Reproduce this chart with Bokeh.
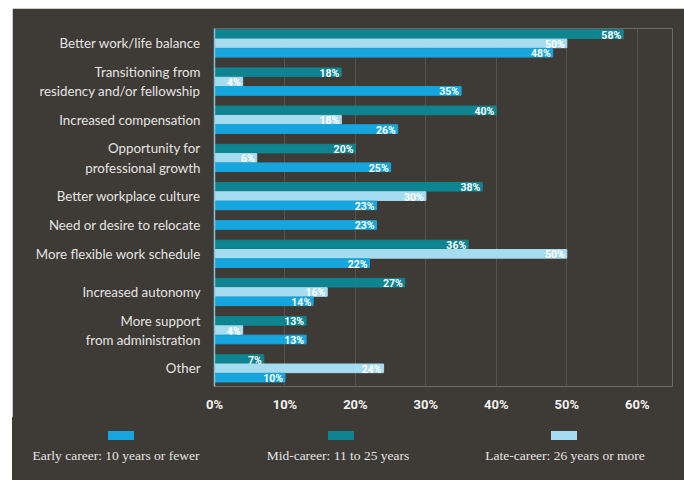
from bokeh.plotting import figure
from bokeh.models import Range1d, FixedTicker, ColumnDataSource, PrintfTickFormatter, Spacer, Div
from bokeh.layouts import row, column
from bokeh.core.properties import value
from bokeh.embed import file_html
from bokeh.resources import INLINE

# ---- data ----
categories = [
    "Better work/life balance",
    "Transitioning from\nresidency and/or fellowship",
    "Increased compensation",
    "Opportunity for\nprofessional growth",
    "Better workplace culture",
    "Need or desire to relocate",
    "More flexible work schedule",
    "Increased autonomy",
    "More support\nfrom administration",
    "Other",
]
early = [48, 35, 26, 25, 23, 23, 22, 14, 13, 10]
mid = [58, 18, 40, 20, 38, None, 36, 27, 13, 7]
late = [50, 4, 18, 6, 30, None, 50, 16, 4, 24]
series_names = ["Early career: 10 years or fewer", "Mid-career: 11 to 25 years",
                "Late-career: 26 years or more"]
x_ticks = [0, 10, 20, 30, 40, 50, 60]

# ---- style ----
BG = "#3e3a35"
C_EARLY = "#16a6dd"
C_MID = "#0e8491"
C_LATE = "#a6dcef"
GAP = 1.1

# build bar positions (stacked order within a group: mid, late, early)
ys, vs, cs, ts = [], [], [], []
centers = []
pos = 0.0
for i, cat in enumerate(categories):
    group = []
    for vals, col in ((mid, C_MID), (late, C_LATE), (early, C_EARLY)):
        v = vals[i]
        if v is None:
            continue
        y = pos + 0.5
        ys.append(y); vs.append(v); cs.append(col); ts.append(f"{v}%")
        group.append(y)
        pos += 1
    centers.append(sum(group) / len(group))
    pos += GAP
pos -= GAP

src = ColumnDataSource(dict(y=ys, v=vs, c=cs, t=ts))

p = figure(width=672, height=410,
           x_range=Range1d(0, 65), y_range=Range1d(pos + 0.45, -0.1),
           output_backend="svg", toolbar_location=None,
           min_border_left=202, min_border_right=12, min_border_top=20, min_border_bottom=32,
           background_fill_color=BG, border_fill_color=BG, outline_line_color=None)

p.hbar(y="y", left=0, right="v", height=0.93, color="c", source=src)
p.text(x="v", y="y", text="t", source=src, x_offset=-2, y_offset=1,
       text_align="right", text_baseline="middle",
       text_font=value("Roboto"), text_font_style="bold",
       text_font_size="10.5px", text_color="white")

# y axis (categories)
p.yaxis.ticker = FixedTicker(ticks=centers)
p.yaxis.major_label_overrides = {c: lab for c, lab in zip(centers, categories)}
p.yaxis.major_label_text_font = "Lato"
p.yaxis.major_label_text_font_size = "13.3px"
p.yaxis.major_label_text_color = "#e4e4e4"
p.yaxis.major_label_standoff = 8
p.yaxis.axis_line_color = "#86c3d3"
p.yaxis.axis_line_width = 1.5
p.yaxis.major_tick_line_color = None
p.yaxis.minor_tick_line_color = None

# x axis
p.xaxis.ticker = FixedTicker(ticks=x_ticks)
p.xaxis.formatter = PrintfTickFormatter(format="%d%%")
p.xaxis.major_label_text_font = "Roboto"
p.xaxis.major_label_text_font_style = "bold"
p.xaxis.major_label_text_font_size = "13px"
p.xaxis.major_label_text_color = "#f2f2f2"
p.xaxis.major_label_standoff = 4
p.xaxis.axis_line_color = None
p.xaxis.major_tick_line_color = None
p.xaxis.minor_tick_line_color = None

p.xgrid.grid_line_color = "#57524c"
p.ygrid.grid_line_color = None

# ---- legend panel (HTML) ----
sq_left = [96, 316, 539]      # positions inside the legend panel
tx_center = [104, 326, 553]
colors = [C_EARLY, C_MID, C_LATE]
parts = []
for name, c, sl, tc in zip(series_names, colors, sq_left, tx_center):
    parts.append(
        f'<div style="position:absolute;left:{sl}px;top:14px;width:26px;height:9px;'
        f'background:{c};"></div>'
    )
    parts.append(
        f'<div style="position:absolute;left:{tc - 110}px;top:30px;width:220px;'
        f'text-align:center;font-family:\'Liberation Serif\';font-size:13.5px;'
        f'line-height:17px;color:#e4e4e4;white-space:nowrap;">{name}</div>'
    )
html = (f'<div style="position:relative;width:672px;height:63px;background:{BG};'
        f'margin:-1px 0 0 0;padding:0;">' + "".join(parts) + '</div>')
leg = Div(text=html, width=672, height=62, styles={"background-color": BG, "margin": "0", "padding": "0"})

layout = column(Spacer(height=8), row(Spacer(width=12), column(p, leg)))

open("out.html", "w").write(file_html(layout, INLINE))
